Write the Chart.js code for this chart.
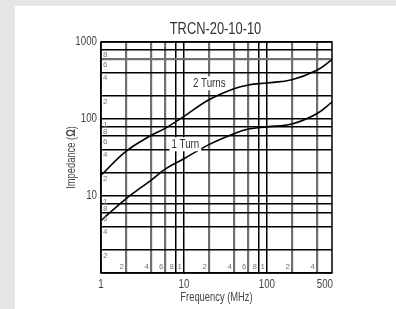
<!DOCTYPE html>
<html>
<head>
<meta charset="utf-8">
<script src="https://cdn.jsdelivr.net/npm/chart.js@4.4.0/dist/chart.umd.min.js"></script>
<style>
  body { margin: 0; background: #e6e6e6; }
  #panel { position: absolute; left: 15px; top: 6px; width: 381px; height: 303px; background: #fff; }
</style>
</head>
<body>
<div id="panel"><canvas id="chart" width="381" height="303"></canvas></div>
<script>
// values (frequency in MHz, impedance in ohms)
const frequencies = [1, 2, 4, 6, 10, 20, 40, 60, 100, 200, 400, 610];
const twoTurns = [18.6, 38, 61, 76, 108, 178, 248, 277, 294, 324, 430, 590];
const oneTurn = [4.8, 9.2, 16, 22.5, 30.5, 46.5, 64.5, 74, 79, 86, 117, 166];

const xGridValues = [1, 2, 4, 6, 8, 10, 20, 40, 60, 80, 100, 200, 400, 500];
const xLabelValues = [1, 10, 100, 500];
const yGridValues = [1, 2, 4, 6, 8, 10, 20, 40, 60, 80, 100, 200, 400, 600, 800, 1000];
const yLabelValues = [10, 100, 1000];
const xMinorLabels = [2, 4, 6, 8, 10, 20, 40, 60, 80, 100, 200, 400];
const yMinorLabels = [2, 4, 6, 8, 10, 20, 40, 60, 80, 100, 200, 400, 600, 800];

const chartTitle = 'TRCN-20-10-10';
const xTitle = 'Frequency (MHz)';
const yTitle = ['Impedance (', 'Ω', ')'];

// where the curve names sit, in data units
const curveLabels = [
  { text: '2 Turns', x: 20.2, y: 291 },
  { text: '1 Turn', x: 10.4, y: 47 }
];

const FONT = '"Liberation Sans", Arial, sans-serif';
const SQUEEZE = 0.78;

function toPoints(ys) {
  return frequencies.map((f, i) => ({ x: f, y: ys[i] }));
}

// the original uses a narrow face, so squeeze regular text a bit
function narrowText(ctx, text, x, y, size, align, color, rotate) {
  ctx.save();
  ctx.translate(x, y);
  if (rotate) ctx.rotate(-Math.PI / 2);
  ctx.scale(SQUEEZE, 1);
  ctx.font = size + 'px ' + FONT;
  ctx.textAlign = align;
  ctx.textBaseline = 'middle';
  ctx.fillStyle = color;
  ctx.fillText(text, 0, 0);
  ctx.restore();
}

// y title with a bold omega
function yTitleText(ctx, x, y, size, color) {
  ctx.save();
  ctx.translate(x, y);
  ctx.rotate(-Math.PI / 2);
  ctx.scale(SQUEEZE, 1);
  ctx.textBaseline = 'middle';
  ctx.textAlign = 'left';
  ctx.fillStyle = color;
  const fonts = [size + 'px ' + FONT, 'bold ' + size + 'px ' + FONT, size + 'px ' + FONT];
  let total = 0;
  const widths = yTitle.map((t, i) => { ctx.font = fonts[i]; const w = ctx.measureText(t).width; total += w; return w; });
  let cx = -total / 2;
  yTitle.forEach((t, i) => { ctx.font = fonts[i]; ctx.fillText(t, cx, 0); cx += widths[i]; });
  ctx.restore();
}

const extras = {
  id: 'extras',
  afterDatasetsDraw(chart) {
    const { ctx, chartArea: a, scales: { x, y } } = chart;
    ctx.save();

    // small minor-decade digits inside the plot
    ctx.font = '8px ' + FONT;
    ctx.fillStyle = '#777';
    ctx.textAlign = 'right';
    ctx.textBaseline = 'bottom';
    xMinorLabels.forEach(v => {
      ctx.fillText(String(v)[0], x.getPixelForValue(v) - 2, a.bottom - 2);
    });
    ctx.textAlign = 'left';
    ctx.textBaseline = 'top';
    yMinorLabels.forEach(v => {
      ctx.fillText(String(v)[0], a.left + 2, y.getPixelForValue(v) + 1.5);
    });

    // curve names on a white box
    ctx.font = '12.5px ' + FONT;
    curveLabels.forEach(l => {
      const px = x.getPixelForValue(l.x);
      const py = y.getPixelForValue(l.y);
      const w = ctx.measureText(l.text).width * SQUEEZE;
      ctx.fillStyle = '#fff';
      ctx.fillRect(px - w / 2 - 2, py - 7, w + 4, 14);
      narrowText(ctx, l.text, px, py, 12.5, 'center', '#333');
    });

    // frame
    ctx.strokeStyle = '#000';
    ctx.lineWidth = 1.5;
    ctx.strokeRect(a.left, a.top, a.right - a.left, a.bottom - a.top);

    // tick labels
    xLabelValues.forEach(v => {
      narrowText(ctx, String(v), x.getPixelForValue(v), a.bottom + 12, 12.5, 'center', '#444');
    });
    yLabelValues.forEach(v => {
      narrowText(ctx, String(v), a.left - 4, y.getPixelForValue(v), 12.5, 'right', '#444');
    });

    // titles
    narrowText(ctx, chartTitle, (a.left + a.right) / 2 - 1, 23.5, 16.5, 'center', '#333');
    narrowText(ctx, xTitle, (a.left + a.right) / 2, a.bottom + 24.5, 12, 'center', '#444');
    yTitleText(ctx, 57, (a.top + a.bottom) / 2, 12, '#444');
    ctx.restore();
  }
};

function isGray(v) {
  const d = String(v)[0];
  return d === '2' || d === '4' || d === '6';
}

new Chart(document.getElementById('chart'), {
  type: 'line',
  data: {
    datasets: [
      { label: '2 Turns', data: toPoints(twoTurns) },
      { label: '1 Turn', data: toPoints(oneTurn) }
    ]
  },
  options: {
    responsive: false,
    animation: false,
    layout: { padding: { top: 36, right: 64, bottom: 0, left: 0 } },
    elements: {
      line: { borderColor: '#000', borderWidth: 1.6, tension: 0.4 },
      point: { radius: 0 }
    },
    plugins: { legend: { display: false }, tooltip: { enabled: false } },
    scales: {
      x: {
        type: 'logarithmic',
        min: 1,
        max: 610,
        afterBuildTicks: s => { s.ticks = xGridValues.map(v => ({ value: v })); },
        afterFit: s => { s.height = 36; },
        ticks: { display: false },
        grid: {
          drawTicks: false,
          color: c => {
            const v = c.tick && c.tick.value;
            if (v === 500) return 'rgba(0,0,0,0)';
            return isGray(v) ? '#707070' : '#000';
          },
          lineWidth: c => isGray(c.tick && c.tick.value) ? 2.2 : 1.5
        },
        border: { display: false }
      },
      y: {
        type: 'logarithmic',
        min: 1,
        max: 1000,
        afterBuildTicks: s => { s.ticks = yGridValues.map(v => ({ value: v })); },
        afterFit: s => { s.width = 86; },
        ticks: { display: false },
        grid: {
          drawTicks: false,
          color: c => (c.tick && c.tick.value === 600) ? '#707070' : '#000',
          lineWidth: c => (c.tick && c.tick.value === 600) ? 2.2 : 1.5
        },
        border: { display: false }
      }
    }
  },
  plugins: [extras]
});
</script>
</body>
</html>
